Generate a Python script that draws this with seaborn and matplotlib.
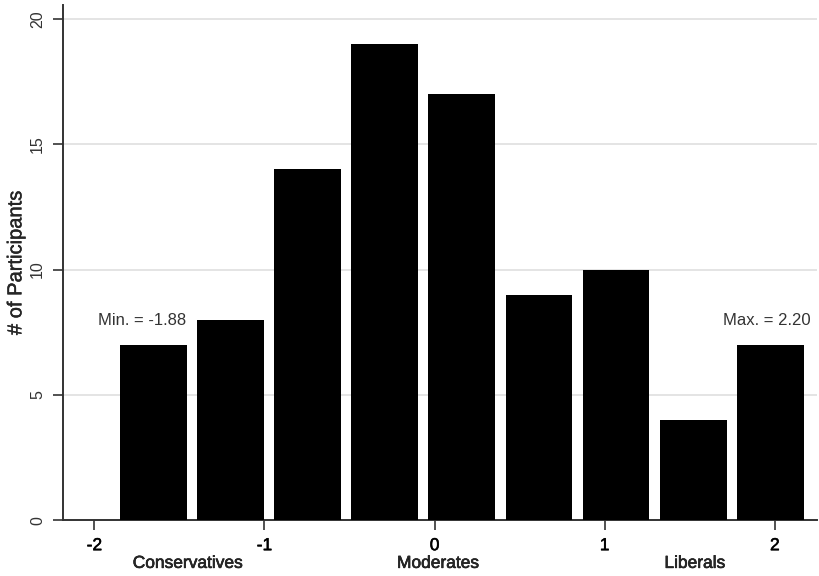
# Libraries
# ===================================================
import numpy as np
import pandas as pd
import seaborn as sns
import matplotlib.pyplot as plt
import matplotlib.patheffects as patheffects

# Data
# ===================================================
# Histogram counts (9 equal bins between min and max)
score_min = -1.88
score_max = 2.20
counts = [7, 8, 14, 19, 17, 9, 10, 4, 7]
x_ticks = [-2, -1, 0, 1, 2]
y_ticks = [0, 5, 10, 15, 20]
group_labels = ['Conservatives', 'Moderates', 'Liberals']
group_pos = [-1.45, 0.02, 1.53]

# Transform Data
# ===================================================
edges = np.linspace(score_min, score_max, len(counts) + 1)
centers = (edges[:-1] + edges[1:]) / 2
df = pd.DataFrame({'score': centers, 'n': counts})

# Visualization Data
# ===================================================
sns.set_style('white')
plt.rcParams['font.family'] = ['Liberation Sans', 'DejaVu Sans']
plt.rcParams['axes.unicode_minus'] = False

# thin stroke to thicken the darker labels a bit
heavy = [patheffects.withStroke(linewidth=0.4, foreground='black')]
light = [patheffects.withStroke(linewidth=0.25, foreground='black')]

fig = plt.figure(figsize=(8.19, 5.76), dpi=100)
ax = fig.add_axes([0.077, 0.097, 0.921, 0.894])

sns.histplot(data=df, x='score', weights='n', bins=len(counts),
             binrange=(score_min, score_max), shrink=0.865,
             color='black', edgecolor='black', alpha=1, linewidth=0, ax=ax, zorder=3)

# Axes style
ax.set_xlim(-2.184, 2.25)
ax.set_ylim(0, 20.55)
ax.set_xticks(x_ticks)
ax.set_yticks(y_ticks)
ax.tick_params(axis='both', length=7, width=1.2, color='#333333', direction='out', left=True, bottom=True)
ax.tick_params(axis='x', pad=6, labelsize=12.5, labelcolor='black')
ax.tick_params(axis='y', pad=6, labelsize=11.5, labelcolor='#333333', labelrotation=90)
for lab in ax.get_yticklabels():
    lab.set_va('center')
for lab in ax.get_xticklabels():
    lab.set_path_effects(heavy)
ax.grid(axis='y', color='#e2e2e2', linewidth=1.3, zorder=0)
ax.set_axisbelow(True)
for s in ['top', 'right']:
    ax.spines[s].set_visible(False)
for s in ['left', 'bottom']:
    ax.spines[s].set_color('#333333')
    ax.spines[s].set_linewidth(1.4)

ax.set_xlabel('')
ax.set_ylabel('# of Participants', fontsize=14.5, path_effects=light)
ax.yaxis.set_label_coords(-0.050, 0.50)

# Group labels under ticks
for label, pos in zip(group_labels, group_pos):
    ax.text(pos, -0.084, label, transform=ax.get_xaxis_transform(),
            ha='center', va='center', fontsize=12.5, path_effects=heavy)

# Min / Max annotations
ax.text(-1.72, 7.95, f'Min. = {score_min:.2f}', ha='center', va='center', fontsize=12, color='#333333')
ax.text(1.95, 7.95, f'Max. = {score_max:.2f}', ha='center', va='center', fontsize=12, color='#333333')

plt.savefig('out.png', dpi=100)
